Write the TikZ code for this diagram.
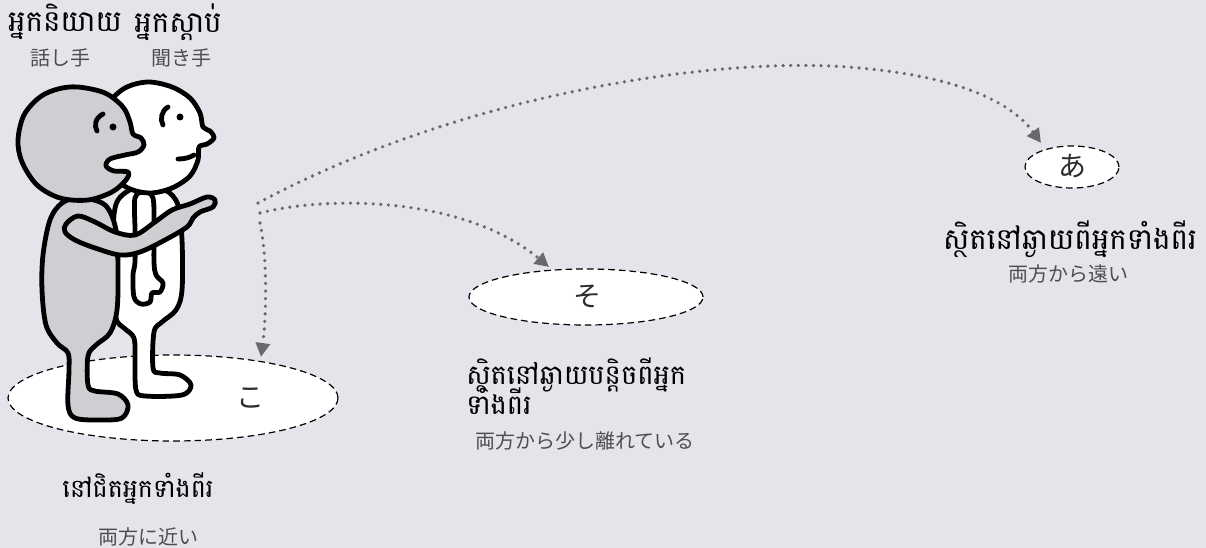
\documentclass[tikz,border=0pt]{standalone}
\usepackage{fontspec}
\newfontfamily\khmerfont[Script=Khmer]{Battambang}
\newfontfamily\jpfont{Noto Sans CJK JP}
\usetikzlibrary{arrows.meta,shapes.geometric}
\definecolor{bg}{RGB}{229,228,234}
\definecolor{skin}{RGB}{206,207,210}
\definecolor{dotc}{RGB}{105,104,110}
\definecolor{jpgray}{RGB}{78,78,82}
\definecolor{kana}{RGB}{45,45,48}

\begin{document}
\begin{tikzpicture}[x=0.75pt,y=-0.75pt,
  outline/.style={draw=black, line width=3.6pt, line join=round},
  feature/.style={draw=black, line width=3.6pt, line cap=round},
  spot/.style={ellipse, draw=black, fill=white, line width=0.9pt,
    dash pattern=on 5pt off 3pt, inner sep=0pt, outer sep=0pt},
  kh/.style={font=\khmerfont\fontsize{#1}{#1}\selectfont, text=black, inner sep=0pt},
  kh/.default=20,
  jp/.style={font=\jpfont\fontsize{15}{18}\selectfont, text=jpgray, inner sep=0pt},
  kanalabel/.style={font=\jpfont\fontsize{21}{24}\selectfont, text=kana, inner sep=0pt},
  pointer/.style={draw=dotc, line width=2.7pt, line cap=round,
    dash pattern=on 0pt off 5.7pt,
    -{Triangle[length=10.5pt,width=10.5pt,fill=dotc]}}
]
% canvas
\fill[bg] (0,0) rectangle (1206,548);

% the three zones
\node[spot, minimum width=247.5pt, minimum height=64.5pt] (ellko) at (173,398) {};
\node[spot, minimum width=175.5pt, minimum height=42pt] (ellso) at (586,297) {};
\node[spot, minimum width=70.5pt, minimum height=31.5pt] (ella) at (1072,167) {};
\node[kanalabel] (ko) at (250,398) {こ};
\node[kanalabel] (so) at (587,297) {そ};
\node[kanalabel] (a) at (1072,166) {あ};

% listener: body and leg
\filldraw[outline, fill=white] plot[smooth cycle, tension=0.55] coordinates {
  (140,186) (165,190) (178,205) (182,240) (182,290) (176,310) (162,322)
  (154,332) (153,368) (160,373) (180,375) (191,385) (182,395) (145,396)
  (136,390) (135,360) (134,338) (124,328) (116,318) (113,280) (113,230) (118,200)};
% listener: hanging arm
\filldraw[outline, fill=white] plot[smooth cycle, tension=0.55] coordinates {
  (135,198) (144,192) (153,198) (154,230) (154,262) (156,275) (163,283)
  (160,292) (152,293) (150,302) (141,304) (134,297) (133,275) (135,262) (135,230)};
% listener: head
\filldraw[outline, fill=white] plot[smooth cycle, tension=0.55] coordinates {
  (148,82) (172,87) (190,98) (200,113) (203,127) (210,131) (214,138) (207,144)
  (199,147) (198,160) (190,176) (172,188) (150,193) (128,188) (108,172)
  (100,150) (100,125) (108,104) (125,88)};
\draw[feature] (168,107) .. controls (161,111) and (160,120) .. (163,125);
\fill (180,117) circle[radius=3.5];
\draw[feature] (178,159) .. controls (184,159) and (189,158) .. (194,155);

% speaker: body and leg
\filldraw[outline, fill=skin] plot[smooth cycle, tension=0.55] coordinates {
  (80,198) (105,205) (116,230) (118,270) (117,310) (110,333) (96,345)
  (88,356) (88,385) (95,391) (118,394) (128,405) (122,418) (100,420)
  (75,418) (68,405) (69,370) (68,353) (57,343) (46,325) (42,290) (43,255)
  (50,220) (62,203)};
% speaker: head
\filldraw[outline, fill=skin] plot[smooth cycle, tension=0.55] coordinates {
  (78,87) (105,93) (123,107) (130,122) (133,134) (141,138) (144,145)
  (138,152) (125,155) (110,159) (106,166) (114,171) (128,172) (126,180)
  (112,192) (88,200) (60,198) (37,185) (22,162) (18,140) (24,115) (40,97) (58,89)};
\draw[feature] (103,114) .. controls (95,118) and (94,126) .. (97,131);
\fill (113,127) circle[radius=3.5];
% speaker: pointing arm
\filldraw[outline, fill=skin] plot[smooth cycle, tension=0.55] coordinates {
  (66,224) (78,216) (95,222) (115,232) (135,235) (155,222) (172,210) (190,204)
  (207,197) (215,200) (213,207) (200,212) (193,218) (187,227) (165,240)
  (140,252) (120,255) (95,248) (75,240) (65,232)};

% pointers from the hand
\coordinate (fromA) at (260,223);
\coordinate (fromB) at (260,213);
\coordinate (fromC) at (258,203);
\coordinate (toA) at (261,357);
\coordinate (toB) at (549,267);
\coordinate (toC) at (1041,143);
\coordinate (topC) at (830,66);
\draw[pointer] (fromA) .. controls (268,260) and (266,320) .. (toA);
\draw[pointer] (fromB) .. controls (330,195) and (465,197) .. (toB);
\draw[pointer] (fromC) .. controls (450,100) and (690,60) .. (topC)
  .. controls (950,72) and (1010,100) .. (toC);

% labels
\node[kh=22] (spk) at (65,22) {អ្នកនិយាយ};
\node[kh=22] (lis) at (178,22) {អ្នកស្ដាប់};
\node[jp] (spkj) at (61,58) {話し手};
\node[jp] (lisj) at (181,58) {聞き手};

\node[kh=19] (near) at (138,489) {នៅជិតអ្នកទាំងពីរ};
\node[jp] (nearj) at (148,537) {両方に近い};

\node[kh=20.5, anchor=west] (mid) at (466,375) {ស្ថិតនៅឆ្ងាយបន្តិចពីអ្នក};
\node[kh=20.5, anchor=west] (midb) at (466,401) {ទាំងពីរ};
\node[jp, anchor=west] (midj) at (475,441) {両方から少し離れている};

\node[kh=22] (far) at (1070,239) {ស្ថិតនៅឆ្ងាយពីអ្នកទាំងពីរ};
\node[jp] (farj) at (1068,274) {両方から遠い};
\end{tikzpicture}
\end{document}
